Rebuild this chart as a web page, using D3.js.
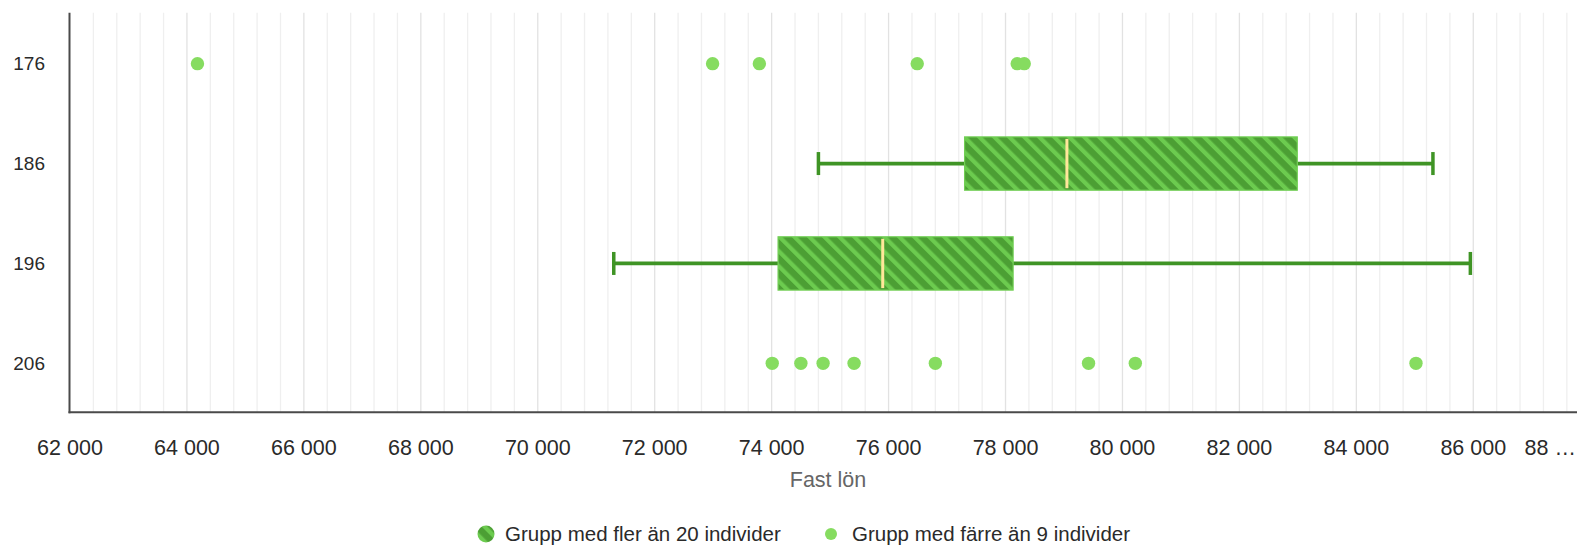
<!DOCTYPE html>
<html>
<head>
<meta charset="utf-8">
<script src="https://cdn.jsdelivr.net/npm/d3@7"></script>
<style>
  html, body { margin: 0; padding: 0; background: #fff; overflow: hidden; }
  svg { display: block; font-family: "Liberation Sans", Arial, sans-serif; }
</style>
</head>
<body>
<svg id="chart" width="1577" height="546"></svg>
<script>
// ---- data ----
const categories = ["176", "186", "196", "206"];
const boxCategories = ["186", "196"];
const boxLow    = [74800, 71300];
const boxQ1     = [77300, 74110];
const boxMedian = [79050, 75900];
const boxQ3     = [82990, 78130];
const boxHigh   = [85310, 85950];
const dotCategories = ["176", "206"];
const dots176 = [64180, 72990, 73790, 76490, 78200, 78320];
const dots206 = [74010, 74500, 74880, 75410, 76800, 79420, 80220, 85020];
const tickValues = [62000, 64000, 66000, 68000, 70000, 72000, 74000, 76000, 78000, 80000, 82000, 84000, 86000, 88000];
const tickLabels = ["62 000", "64 000", "66 000", "68 000", "70 000", "72 000", "74 000", "76 000", "78 000", "80 000", "82 000", "84 000", "86 000", "88 …"];
const xTitle = "Fast lön";
const legendLabels = ["Grupp med fler än 20 individer", "Grupp med färre än 9 individer"];

// ---- layout ----
const svg = d3.select("#chart");
const W = 1577;
const plotLeft = 70, plotTop = 12.7, plotBottom = 412.3;
const x = d3.scaleLinear().domain([62000, 88000]).range([plotLeft, plotLeft + 26 * 58.47]);
const y = d3.scaleBand().domain(categories).range([plotTop, plotBottom]).padding(0);
const yc = c => y(c) + y.bandwidth() / 2;

const defs = svg.append("defs");
const pat = defs.append("pattern")
  .attr("id", "stripes").attr("patternUnits", "userSpaceOnUse")
  .attr("width", 10.6).attr("height", 10.6)
  .attr("patternTransform", "rotate(-45)");
pat.append("rect").attr("width", 10.6).attr("height", 10.6).attr("fill", "#4c9f34");
pat.append("rect").attr("x", 0).attr("width", 4.2).attr("height", 10.6).attr("fill", "#6ccb4f");

// grid lines (minor every 400, major every 2000)
const gridVals = d3.range(62400, 88001, 400);
svg.append("g").selectAll("line").data(gridVals).join("line")
  .attr("x1", d => x(d)).attr("x2", d => x(d))
  .attr("y1", plotTop).attr("y2", plotBottom)
  .attr("stroke", d => (d % 2000 === 0) ? "#e2e2e2" : "#efefef")
  .attr("stroke-width", 1.3);

// axes lines
svg.append("line").attr("x1", plotLeft - 0.5).attr("x2", plotLeft - 0.5).attr("y1", plotTop).attr("y2", plotBottom + 1)
  .attr("stroke", "#4a4a4a").attr("stroke-width", 2);
svg.append("line").attr("x1", plotLeft - 1.5).attr("x2", W).attr("y1", plotBottom).attr("y2", plotBottom)
  .attr("stroke", "#4a4a4a").attr("stroke-width", 2);

// y labels
svg.append("g").selectAll("text").data(categories).join("text")
  .attr("x", 45).attr("y", d => yc(d) + 1).attr("dy", "0.35em")
  .attr("text-anchor", "end").attr("font-size", 19).attr("fill", "#2a2a2a")
  .text(d => d);

// x tick labels
const lastIdx = tickValues.length - 1;
svg.append("g").selectAll("text").data(tickValues).join("text")
  .attr("x", (d, i) => i === lastIdx ? W - 1 : x(d))
  .attr("y", 455)
  .attr("text-anchor", (d, i) => i === lastIdx ? "end" : "middle")
  .attr("font-size", 21.5).attr("fill", "#2a2a2a")
  .text((d, i) => tickLabels[i]);

// x title
svg.append("text").attr("x", 828).attr("y", 487).attr("text-anchor", "middle")
  .attr("font-size", 21.5).attr("fill", "#666").text(xTitle);

// box plots
const boxH = 53.3, capH = 23;
const boxes = svg.append("g");
boxCategories.forEach((c, i) => {
  const cy = yc(c) + 1;
  const g = boxes.append("g");
  g.append("line").attr("x1", x(boxLow[i])).attr("x2", x(boxQ1[i])).attr("y1", cy).attr("y2", cy)
    .attr("stroke", "#3f9425").attr("stroke-width", 3.8);
  g.append("line").attr("x1", x(boxQ3[i])).attr("x2", x(boxHigh[i])).attr("y1", cy).attr("y2", cy)
    .attr("stroke", "#3f9425").attr("stroke-width", 3.8);
  [boxLow[i], boxHigh[i]].forEach(v => {
    g.append("line").attr("x1", x(v)).attr("x2", x(v)).attr("y1", cy - capH / 2).attr("y2", cy + capH / 2)
      .attr("stroke", "#3f9425").attr("stroke-width", 3.5);
  });
  g.append("rect").attr("x", x(boxQ1[i])).attr("y", cy - boxH / 2)
    .attr("width", x(boxQ3[i]) - x(boxQ1[i])).attr("height", boxH)
    .attr("fill", "url(#stripes)").attr("stroke", "#72cf55").attr("stroke-width", 1.2);
  g.append("line").attr("x1", x(boxMedian[i])).attr("x2", x(boxMedian[i]))
    .attr("y1", cy - boxH / 2 + 2).attr("y2", cy + boxH / 2 - 2)
    .attr("stroke", "#ffe79a").attr("stroke-width", 3);
});

// dots
const dotData = [];
dots176.forEach(v => dotData.push({ c: dotCategories[0], v }));
dots206.forEach(v => dotData.push({ c: dotCategories[1], v }));
svg.append("g").selectAll("circle").data(dotData).join("circle")
  .attr("cx", d => x(d.v)).attr("cy", d => yc(d.c) + 1).attr("r", 6.7)
  .attr("fill", "#86dc60");

// legend
const lg = svg.append("g");
lg.append("circle").attr("cx", 486).attr("cy", 534).attr("r", 8.5).attr("fill", "url(#stripes)");
lg.append("text").attr("x", 505).attr("y", 541).attr("font-size", 20.5).attr("fill", "#2a2a2a").text(legendLabels[0]);
lg.append("circle").attr("cx", 831).attr("cy", 534).attr("r", 6).attr("fill", "#86dc60");
lg.append("text").attr("x", 852).attr("y", 541).attr("font-size", 20.5).attr("fill", "#2a2a2a").text(legendLabels[1]);
</script>
</body>
</html>
